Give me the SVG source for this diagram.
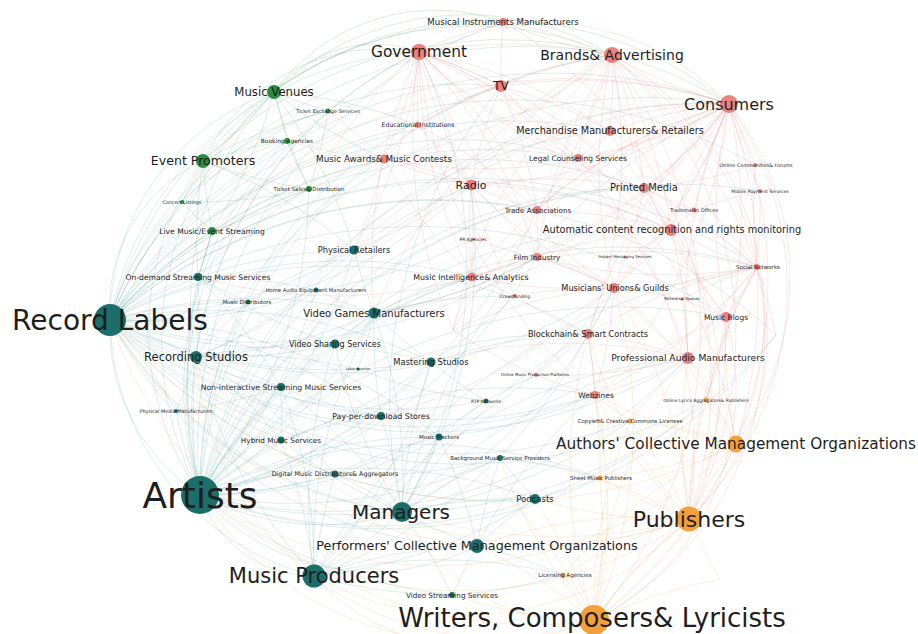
<svg xmlns="http://www.w3.org/2000/svg" width="918" height="634" viewBox="0 0 918 634">
<style>
.bg{fill:#ffffff}
#edges path{fill:none;stroke-width:0.6}
.et path{stroke:#3f8f89;stroke-opacity:0.28}
.er path{stroke:#e27070;stroke-opacity:0.28}
.eo path{stroke:#f0a040;stroke-opacity:0.3}
.eg path{stroke:#3a9a4a;stroke-opacity:0.3}
.t circle{fill:#1b6e69}
.g circle{fill:#2b8c3e}
.r circle{fill:#e8817f}
.o circle{fill:#f3a03a}
.node text{font-family:"DejaVu Sans","Liberation Sans",sans-serif;fill:#1e1e1e;text-anchor:middle}
</style>
<rect class="bg" width="918" height="634"/>
<g id="edges">
<g class="et">
<path d="M200 495A520 520 0 0 1 729 104M200 495A480 480 0 0 1 612 55M200 495A400 400 0 0 1 419 52M200 495A450 450 0 0 1 503 22M200 495A420 420 0 0 1 501 86M200 495A330 330 0 0 1 274 92M200 495A290 290 0 0 1 203 161M200 495A480 480 0 0 1 757 267M200 495A560 560 0 0 1 726 317M110 320A520 520 0 0 1 729 104M110 320A450 450 0 0 1 612 55M110 320A330 330 0 0 1 419 52M110 320A400 400 0 0 1 503 22M110 320A240 240 0 0 1 274 92M110 320A520 520 0 0 1 757 267M110 320A380 380 0 0 1 501 86M110 320A160 160 0 0 1 203 161M110 320A560 560 0 0 1 726 317M200 495A200 200 0 0 1 110 320M477 546A230 230 0 0 1 200 495M314 576A270 270 0 0 1 110 320M314 576A120 120 0 0 1 200 495M402 512A260 260 0 0 1 200 495M402 512A400 400 0 0 1 110 320M402 512A600 600 0 0 1 729 104M314 576A600 600 0 0 1 757 267"/>
<path d="M200 495A460 460 0 0 1 610 131M200 495A470 470 0 0 1 644 188M200 495A380 380 0 0 1 384 159M200 495A360 360 0 0 1 328 111M200 495A350 350 0 0 1 287 141M110 320A300 300 0 0 1 328 111M110 320A260 260 0 0 1 287 141M110 320A420 420 0 0 1 578 158M110 320A480 480 0 0 1 755 165M200 495A520 520 0 0 1 760 191M196 357A300 300 0 0 1 274 92M196 357A400 400 0 0 1 419 52M196 357A520 520 0 0 1 729 104M402 512A380 380 0 0 1 110 320M477 546A420 420 0 0 1 110 320"/>
<path d="M200 495A500 500 0 0 1 196 357M200 495A500 500 0 0 0 374 313M200 495A500 500 0 0 1 335 344M200 495A500 500 0 0 0 431 362M200 495A500 500 0 0 1 281 387M200 495A500 500 0 0 0 381 416M200 495A500 500 0 0 1 281 440M200 495A500 500 0 0 0 335 474M200 495A500 500 0 0 1 198 277M200 495A500 500 0 0 0 354 250M200 495A500 500 0 0 1 535 499M200 495A500 500 0 0 0 500 458M200 495A500 500 0 0 1 439 437M200 495A500 500 0 0 0 486 401M200 495A500 500 0 0 1 248 302M200 495A500 500 0 0 0 316 290M200 495A500 500 0 0 1 176 411M200 495A500 500 0 0 0 452 595M200 495A500 500 0 0 1 595 395M200 495A500 500 0 0 0 614 288M200 495A500 500 0 0 1 588 334M200 495A500 500 0 0 0 688 358M200 495A500 500 0 0 1 472 277M200 495A500 500 0 0 0 537 257M200 495A500 500 0 0 1 600 478M200 495A500 500 0 0 0 630 421M200 495A500 500 0 0 1 358 369M200 495A500 500 0 0 0 309 189M200 495A500 500 0 0 1 212 231M200 495A500 500 0 0 1 471 185M200 495A500 500 0 0 0 537 210M200 495A500 500 0 0 1 671 230M200 495A500 500 0 0 1 644 188M200 495A500 500 0 0 0 706 400M200 495A500 500 0 0 0 776 335"/>
<path d="M110 320A500 500 0 0 0 196 357M110 320A500 500 0 0 1 374 313M110 320A500 500 0 0 0 335 344M110 320A500 500 0 0 1 431 362M110 320A500 500 0 0 0 281 387M110 320A500 500 0 0 1 381 416M110 320A500 500 0 0 0 281 440M110 320A500 500 0 0 1 335 474M110 320A500 500 0 0 1 198 277M110 320A500 500 0 0 0 354 250M110 320A500 500 0 0 1 248 302M110 320A500 500 0 0 0 316 290M110 320A500 500 0 0 1 176 411M110 320A500 500 0 0 0 358 369M110 320A500 500 0 0 1 472 277M110 320A500 500 0 0 0 537 257M110 320A500 500 0 0 1 671 230M110 320A500 500 0 0 0 614 288M110 320A500 500 0 0 1 588 334M110 320A500 500 0 0 0 688 358M110 320A500 500 0 0 1 537 210M110 320A500 500 0 0 1 644 188M110 320A500 500 0 0 0 471 185M110 320A500 500 0 0 0 535 499M110 320A500 500 0 0 1 439 437M110 320A500 500 0 0 0 486 401M110 320A500 500 0 0 0 595 395M110 320A500 500 0 0 1 212 231M110 320A500 500 0 0 1 309 189M110 320A500 500 0 0 1 384 159M110 320A500 500 0 0 1 418 125M110 320A500 500 0 0 1 287 141M110 320A500 500 0 0 1 182 202M110 320A500 500 0 0 1 776 335M110 320A500 500 0 0 1 610 131M110 320A500 500 0 0 1 578 158M110 320A500 500 0 0 0 706 400M110 320A500 500 0 0 0 630 421"/>
<path d="M402 512A500 500 0 0 1 314 576M402 512A500 500 0 0 0 477 546M402 512A500 500 0 0 1 535 499M402 512A500 500 0 0 0 374 313M402 512A500 500 0 0 1 431 362M402 512A500 500 0 0 0 381 416M402 512A500 500 0 0 1 281 440M402 512A500 500 0 0 0 335 474M402 512A500 500 0 0 1 500 458M402 512A500 500 0 0 0 439 437M402 512A500 500 0 0 1 452 595M402 512A500 500 0 0 0 614 288M402 512A500 500 0 0 1 588 334M402 512A500 500 0 0 0 471 185M402 512A500 500 0 0 1 501 86M402 512A500 500 0 0 0 419 52M402 512A500 500 0 0 1 335 344M402 512A500 500 0 0 0 281 387M402 512A500 500 0 0 1 688 358M402 512A500 500 0 0 0 776 335"/>
<path d="M314 576A500 500 0 0 1 196 357M314 576A500 500 0 0 0 431 362M314 576A500 500 0 0 1 477 546M314 576A500 500 0 0 0 452 595M314 576A500 500 0 0 1 335 474M314 576A500 500 0 0 0 281 440M314 576A500 500 0 0 1 688 358M314 576A500 500 0 0 0 588 334M314 576A500 500 0 0 1 335 344M314 576A500 500 0 0 0 535 499M314 576A500 500 0 0 1 563 575M314 576A500 500 0 0 0 281 387M314 576A500 500 0 0 1 374 313M314 576A500 500 0 0 0 439 437"/>
<path d="M196 357A500 500 0 0 1 281 387M196 357A500 500 0 0 0 335 344M196 357A500 500 0 0 1 431 362M196 357A500 500 0 0 0 198 277M196 357A500 500 0 0 1 248 302M196 357A500 500 0 0 0 316 290M196 357A500 500 0 0 1 176 411M196 357A500 500 0 0 0 374 313M196 357A500 500 0 0 1 358 369M196 357A500 500 0 0 0 381 416M196 357A500 500 0 0 1 281 440M196 357A500 500 0 0 0 354 250M374 313A500 500 0 0 1 354 250M374 313A500 500 0 0 0 335 344M374 313A500 500 0 0 1 316 290M374 313A500 500 0 0 0 431 362M374 313A500 500 0 0 1 358 369M374 313A500 500 0 0 0 381 416M374 313A500 500 0 0 1 472 277M374 313A500 500 0 0 0 537 257M374 313A500 500 0 0 1 515 296M198 277A500 500 0 0 1 354 250M198 277A500 500 0 0 0 248 302M198 277A500 500 0 0 1 316 290M198 277A500 500 0 0 0 212 231M198 277A500 500 0 0 1 281 387M198 277A500 500 0 0 0 335 344M477 546A500 500 0 0 1 535 499M477 546A500 500 0 0 0 452 595M477 546A500 500 0 0 1 500 458M477 546A500 500 0 0 0 439 437M477 546A500 500 0 0 1 595 395M281 387A500 500 0 0 1 281 440M281 387A500 500 0 0 0 381 416M381 416A500 500 0 0 1 439 437M335 474A500 500 0 0 0 500 458M535 499A500 500 0 0 1 500 458M486 401A500 500 0 0 0 439 437M431 362A500 500 0 0 1 358 369M431 362A500 500 0 0 0 486 401"/>
<path d="M354 250A500 500 0 0 1 471 185M374 313A500 500 0 0 0 537 257M431 362A500 500 0 0 1 588 334M381 416A500 500 0 0 0 595 395M486 401A500 500 0 0 1 536 375M439 437A500 500 0 0 0 595 395M500 458A500 500 0 0 1 600 478M535 499A500 500 0 0 0 600 478M477 546A500 500 0 0 1 563 575M452 595A500 500 0 0 0 563 575M335 344A500 500 0 0 1 472 277M281 440A500 500 0 0 0 431 362M335 474A500 500 0 0 1 439 437M316 290A500 500 0 0 0 473 239M248 302A500 500 0 0 1 354 250M176 411A500 500 0 0 0 281 387M281 440A500 500 0 0 1 381 416M358 369A500 500 0 0 0 486 401M198 277A500 500 0 0 1 309 189M431 362A500 500 0 0 0 515 296"/>
</g>
<g class="er">
<path d="M729 104A320 320 0 0 1 689 519M729 104A420 420 0 0 1 594 621M729 104A280 280 0 0 1 736 444M612 55A380 380 0 0 1 689 519M419 52A430 430 0 0 1 689 519M757 267A320 320 0 0 1 594 621M757 267A250 250 0 0 1 689 519M612 55A460 460 0 0 1 594 621M503 22A420 420 0 0 1 689 519M726 317A260 260 0 0 1 594 621M419 52A260 260 0 0 1 729 104M503 22A300 300 0 0 1 757 267M612 55A300 300 0 0 1 736 444M644 188A300 300 0 0 1 689 519"/>
<path d="M729 104A500 500 0 0 1 757 267M729 104A500 500 0 0 0 726 317M729 104A500 500 0 0 1 644 188M729 104A500 500 0 0 0 610 131M729 104A500 500 0 0 1 612 55M729 104A500 500 0 0 0 501 86M729 104A500 500 0 0 1 471 185M729 104A500 500 0 0 0 671 230M729 104A500 500 0 0 1 755 165M729 104A500 500 0 0 0 760 191M729 104A500 500 0 0 1 578 158M729 104A500 500 0 0 0 537 210M729 104A500 500 0 0 1 614 288M729 104A500 500 0 0 0 688 358M729 104A500 500 0 0 1 595 395M729 104A500 500 0 0 0 588 334M729 104A500 500 0 0 1 537 257M729 104A500 500 0 0 0 472 277M729 104A500 500 0 0 1 374 313M729 104A500 500 0 0 0 354 250M729 104A500 500 0 0 1 384 159M729 104A500 500 0 0 0 694 210M729 104A500 500 0 0 1 381 416M729 104A500 500 0 0 0 281 387M729 104A500 500 0 0 1 198 277M729 104A500 500 0 0 0 212 231M729 104A500 500 0 0 1 706 400M729 104A500 500 0 0 0 453 330"/>
<path d="M419 52A500 500 0 0 1 501 86M419 52A500 500 0 0 0 503 22M419 52A500 500 0 0 1 612 55M419 52A500 500 0 0 0 418 125M419 52A500 500 0 0 1 384 159M419 52A500 500 0 0 0 471 185M419 52A500 500 0 0 1 537 210M419 52A500 500 0 0 0 614 288M419 52A500 500 0 0 1 537 257M419 52A500 500 0 0 0 472 277M419 52A500 500 0 0 1 354 250M419 52A500 500 0 0 0 309 189M419 52A500 500 0 0 1 287 141M419 52A500 500 0 0 0 578 158M419 52A500 500 0 0 1 610 131M419 52A500 500 0 0 0 644 188M419 52A500 500 0 0 1 671 230M419 52A500 500 0 0 0 374 313M419 52A500 500 0 0 1 688 358M419 52A500 500 0 0 0 595 395M419 52A500 500 0 0 1 736 444M419 52A500 500 0 0 0 453 330"/>
<path d="M612 55A500 500 0 0 1 503 22M612 55A500 500 0 0 0 501 86M612 55A500 500 0 0 1 610 131M612 55A500 500 0 0 0 578 158M612 55A500 500 0 0 1 644 188M612 55A500 500 0 0 0 471 185M612 55A500 500 0 0 1 757 267M612 55A500 500 0 0 0 726 317M612 55A500 500 0 0 1 671 230M612 55A500 500 0 0 0 537 257M612 55A500 500 0 0 1 384 159M612 55A500 500 0 0 0 418 125M612 55A500 500 0 0 1 537 210M612 55A500 500 0 0 0 614 288M612 55A500 500 0 0 1 588 334M612 55A500 500 0 0 0 374 313M612 55A500 500 0 0 0 453 330"/>
<path d="M757 267A500 500 0 0 1 726 317M757 267A500 500 0 0 0 688 358M757 267A500 500 0 0 1 671 230M757 267A500 500 0 0 0 644 188M757 267A500 500 0 0 1 694 210M757 267A500 500 0 0 0 760 191M757 267A500 500 0 0 1 755 165M757 267A500 500 0 0 0 682 299M757 267A500 500 0 0 1 614 288M757 267A500 500 0 0 0 588 334M757 267A500 500 0 0 1 595 395M757 267A500 500 0 0 0 689 519M757 267A500 500 0 0 1 736 444M757 267A500 500 0 0 0 706 400M757 267A500 500 0 0 1 776 335M757 267A500 500 0 0 0 610 131M757 267A500 500 0 0 1 537 257M757 267A500 500 0 0 0 472 277"/>
<path d="M471 185A500 500 0 0 1 501 86M471 185A500 500 0 0 0 384 159M471 185A500 500 0 0 1 418 125M471 185A500 500 0 0 0 537 210M471 185A500 500 0 0 1 354 250M471 185A500 500 0 0 0 472 277M471 185A500 500 0 0 1 537 257M471 185A500 500 0 0 0 515 296M471 185A500 500 0 0 1 644 188M471 185A500 500 0 0 0 614 288M471 185A500 500 0 0 1 473 239M671 230A500 500 0 0 1 644 188M671 230A500 500 0 0 0 694 210M671 230A500 500 0 0 1 614 288M671 230A500 500 0 0 0 537 257M671 230A500 500 0 0 1 625 257M671 230A500 500 0 0 0 726 317M671 230A500 500 0 0 1 688 358M671 230A500 500 0 0 0 537 210M614 288A500 500 0 0 1 682 299M614 288A500 500 0 0 0 515 296M614 288A500 500 0 0 1 588 334M614 288A500 500 0 0 0 688 358M614 288A500 500 0 0 1 595 395M614 288A500 500 0 0 0 537 257M614 288A500 500 0 0 1 472 277M614 288A500 500 0 0 0 453 330M688 358A500 500 0 0 1 726 317M688 358A500 500 0 0 0 588 334M688 358A500 500 0 0 1 595 395M688 358A500 500 0 0 0 431 362M688 358A500 500 0 0 1 536 375M688 358A500 500 0 0 0 630 421M726 317A500 500 0 0 1 682 299M726 317A500 500 0 0 0 595 395M726 317A500 500 0 0 1 706 400M595 395A500 500 0 0 1 536 375M595 395A500 500 0 0 0 630 421M595 395A500 500 0 0 1 600 478M595 395A500 500 0 0 0 588 334M384 159A500 500 0 0 1 418 125M384 159A500 500 0 0 0 309 189M384 159A500 500 0 0 1 287 141M384 159A500 500 0 0 0 328 111M384 159A500 500 0 0 1 354 250M610 131A500 500 0 0 1 578 158M610 131A500 500 0 0 0 644 188M610 131A500 500 0 0 1 537 210M610 131A500 500 0 0 0 501 86M501 86A500 500 0 0 1 503 22M501 86A500 500 0 0 0 418 125M501 86A500 500 0 0 1 537 210M501 86A500 500 0 0 0 578 158"/>
<path d="M537 210A500 500 0 0 1 537 257M537 257A500 500 0 0 0 472 277M472 277A500 500 0 0 1 515 296M515 296A500 500 0 0 0 588 334M588 334A500 500 0 0 1 595 395M536 375A500 500 0 0 0 588 334M473 239A500 500 0 0 1 472 277M473 239A500 500 0 0 0 537 257M625 257A500 500 0 0 1 614 288M625 257A500 500 0 0 0 644 188M694 210A500 500 0 0 1 644 188M578 158A500 500 0 0 0 537 210M418 125A500 500 0 0 1 471 185M384 159A500 500 0 0 0 471 185M418 125A500 500 0 0 1 537 210M384 159A500 500 0 0 0 472 277M453 330A500 500 0 0 1 472 277M453 330A500 500 0 0 0 536 375M682 299A500 500 0 0 1 688 358M760 191A500 500 0 0 0 694 210M755 165A500 500 0 0 1 644 188M537 257A500 500 0 0 1 614 288M578 158A500 500 0 0 1 671 230M471 185A500 500 0 0 1 671 230"/>
</g>
<g class="eo">
<path d="M594 621A330 330 0 0 1 200 495M594 621A230 230 0 0 1 314 576M594 621A450 450 0 0 1 110 320M689 519A400 400 0 0 1 200 495M689 519A310 310 0 0 1 314 576M689 519A490 490 0 0 1 110 320M594 621A200 200 0 0 1 402 512M736 444A430 430 0 0 1 200 495M736 444A510 510 0 0 1 110 320M594 621A300 300 0 0 1 196 357M689 519A420 420 0 0 1 196 357"/>
<path d="M689 519A500 500 0 0 1 736 444M689 519A500 500 0 0 0 594 621M689 519A500 500 0 0 1 600 478M689 519A500 500 0 0 0 630 421M689 519A500 500 0 0 1 706 400M689 519A500 500 0 0 0 563 575M689 519A500 500 0 0 1 535 499M689 519A500 500 0 0 0 477 546M689 519A500 500 0 0 1 402 512M689 519A500 500 0 0 0 500 458M689 519A500 500 0 0 1 595 395M689 519A500 500 0 0 0 726 317M689 519A500 500 0 0 1 688 358M689 519A500 500 0 0 0 614 288M689 519A500 500 0 0 1 588 334M689 519A500 500 0 0 0 720 579"/>
<path d="M594 621A500 500 0 0 1 689 519M594 621A500 500 0 0 0 736 444M594 621A500 500 0 0 1 563 575M594 621A500 500 0 0 0 600 478M594 621A500 500 0 0 1 630 421M594 621A500 500 0 0 0 477 546M594 621A500 500 0 0 1 452 595M594 621A500 500 0 0 0 535 499M594 621A500 500 0 0 1 500 458M594 621A500 500 0 0 0 439 437M594 621A500 500 0 0 1 688 358M594 621A500 500 0 0 0 614 288M594 621A500 500 0 0 1 588 334M594 621A500 500 0 0 0 595 395M594 621A500 500 0 0 1 720 579M736 444A500 500 0 0 1 706 400M736 444A500 500 0 0 0 630 421M736 444A500 500 0 0 1 600 478M736 444A500 500 0 0 0 688 358M736 444A500 500 0 0 1 726 317M736 444A500 500 0 0 0 614 288M736 444A500 500 0 0 1 595 395M736 444A500 500 0 0 0 563 575"/>
</g>
<g class="eg">
<path d="M274 92A370 370 0 0 1 729 104M203 161A340 340 0 0 1 612 55M274 92A280 280 0 0 1 612 55M203 161A430 430 0 0 1 729 104M274 92A130 130 0 0 1 419 52M203 161A200 200 0 0 1 419 52M274 92A200 200 0 0 1 503 22"/>
<path d="M274 92A500 500 0 0 1 203 161M274 92A500 500 0 0 0 328 111M274 92A500 500 0 0 1 287 141M274 92A500 500 0 0 0 309 189M274 92A500 500 0 0 1 212 231M274 92A500 500 0 0 0 182 202M274 92A500 500 0 0 1 354 250M274 92A500 500 0 0 0 384 159M274 92A500 500 0 0 1 418 125M203 161A500 500 0 0 1 287 141M203 161A500 500 0 0 0 309 189M203 161A500 500 0 0 1 182 202M203 161A500 500 0 0 0 212 231M203 161A500 500 0 0 1 328 111M203 161A500 500 0 0 0 198 277M203 161A500 500 0 0 1 354 250M212 231A500 500 0 0 1 182 202M212 231A500 500 0 0 0 309 189M212 231A500 500 0 0 1 198 277M309 189A500 500 0 0 1 287 141M309 189A500 500 0 0 0 328 111M309 189A500 500 0 0 1 182 202"/>
</g>
</g>
<g id="nodes">
<g id="n-musical-instruments" class="node r"><circle cx="503" cy="22" r="4"/><text x="503" y="22" dy=".35em" font-size="8.6">Musical Instruments Manufacturers</text></g>
<g id="n-government" class="node r"><circle cx="419" cy="52" r="8"/><text x="419" y="52" dy=".35em" font-size="15.4">Government</text></g>
<g id="n-tv" class="node r"><circle cx="501" cy="86" r="6"/><text x="501" y="86" dy=".35em" font-size="12">TV</text></g>
<g id="n-brands" class="node r"><circle cx="612" cy="55" r="8"/><text x="612" y="55" dy=".35em" font-size="14">Brands&amp; Advertising</text></g>
<g id="n-consumers" class="node r"><circle cx="729" cy="104" r="9"/><text x="729" y="104" dy=".35em" font-size="16">Consumers</text></g>
<g id="n-educational" class="node r"><circle cx="418" cy="125" r="3"/><text x="418" y="125" dy=".35em" font-size="6.2">Educational Institutions</text></g>
<g id="n-merchandise" class="node r"><circle cx="610" cy="131" r="5"/><text x="610" y="131" dy=".35em" font-size="9.7">Merchandise Manufacturers&amp; Retailers</text></g>
<g id="n-music-awards" class="node r"><circle cx="384" cy="159" r="4.5"/><text x="384" y="159" dy=".35em" font-size="8.8">Music Awards&amp; Music Contests</text></g>
<g id="n-legal" class="node r"><circle cx="578" cy="158" r="4"/><text x="578" y="158" dy=".35em" font-size="7.5">Legal Counseling Services</text></g>
<g id="n-online-communities" class="node r"><circle cx="755" cy="165" r="2"/><text x="756" y="165" dy=".35em" font-size="4.9">Online Communities&amp; Forums</text></g>
<g id="n-radio" class="node r"><circle cx="471" cy="185" r="5.5"/><text x="471" y="185" dy=".35em" font-size="11">Radio</text></g>
<g id="n-printed-media" class="node r"><circle cx="644" cy="188" r="5"/><text x="644" y="188" dy=".35em" font-size="9.9">Printed Media</text></g>
<g id="n-mobile-payment" class="node r"><circle cx="760" cy="191" r="2"/><text x="760" y="191" dy=".35em" font-size="4.6">Mobile Payment Services</text></g>
<g id="n-trade-associations" class="node r"><circle cx="537" cy="210" r="4"/><text x="538" y="210" dy=".35em" font-size="7.2">Trade Associations</text></g>
<g id="n-trademarks" class="node r"><circle cx="694" cy="210" r="2.5"/><text x="694" y="210" dy=".35em" font-size="5">Trademarks Offices</text></g>
<g id="n-pr-agencies" class="node r"><circle cx="473" cy="239" r="1.5"/><text x="473" y="239" dy=".35em" font-size="4.4">PR Agencies</text></g>
<g id="n-acr" class="node r"><circle cx="671" cy="230" r="6"/><text x="672" y="230" dy=".35em" font-size="9.8">Automatic content recognition and rights monitoring</text></g>
<g id="n-film" class="node r"><circle cx="537" cy="257" r="4"/><text x="537" y="257" dy=".35em" font-size="7.2">Film Industry</text></g>
<g id="n-instant-messaging" class="node r"><circle cx="625" cy="257" r="1.5"/><text x="625" y="257" dy=".35em" font-size="3.9">Instant Messaging Services</text></g>
<g id="n-social-networks" class="node r"><circle cx="757" cy="267" r="3"/><text x="758" y="267" dy=".35em" font-size="5.5">Social Networks</text></g>
<g id="n-music-intelligence" class="node r"><circle cx="472" cy="277" r="4.5"/><text x="471" y="277" dy=".35em" font-size="7.9">Music Intelligence&amp; Analytics</text></g>
<g id="n-musicians-unions" class="node r"><circle cx="614" cy="288" r="5"/><text x="615" y="288" dy=".35em" font-size="8.2">Musicians' Unions&amp; Guilds</text></g>
<g id="n-crowdfunding" class="node r"><circle cx="515" cy="296" r="2"/><text x="515" y="296" dy=".35em" font-size="4.4">Crowdfunding</text></g>
<g id="n-rehearsal" class="node r"><circle cx="682" cy="299" r="1.5"/><text x="682" y="299" dy=".35em" font-size="4">Rehearsal Spaces</text></g>
<g id="n-music-blogs" class="node r"><circle cx="726" cy="317" r="5"/><text x="726" y="317" dy=".35em" font-size="7.5">Music Blogs</text></g>
<g id="n-blockchain" class="node r"><circle cx="588" cy="334" r="5"/><text x="588" y="334" dy=".35em" font-size="8.2">Blockchain&amp; Smart Contracts</text></g>
<g id="n-pro-audio" class="node r"><circle cx="688" cy="358" r="6"/><text x="688" y="358" dy=".35em" font-size="9.2">Professional Audio Manufacturers</text></g>
<g id="n-online-music-platforms" class="node r"><circle cx="536" cy="375" r="2"/><text x="535" y="375" dy=".35em" font-size="4">Online Music Production Platforms</text></g>
<g id="n-webzines" class="node r"><circle cx="595" cy="395" r="4"/><text x="596" y="395" dy=".35em" font-size="7.5">Webzines</text></g>
<g id="n-online-lyrics" class="node o"><circle cx="706" cy="400" r="2.5"/><text x="706" y="400" dy=".35em" font-size="4.5">Online Lyrics Aggregators&amp; Publishers</text></g>
<g id="n-copyleft" class="node o"><circle cx="630" cy="421" r="2.5"/><text x="630" y="421" dy=".35em" font-size="5.4">Copyleft&amp; Creative Commons Licenses</text></g>
<g id="n-authors-cmo" class="node o"><circle cx="736" cy="444" r="8.5"/><text x="736" y="444" dy=".35em" font-size="15.3">Authors' Collective Management Organizations</text></g>
<g id="n-sheet-music" class="node o"><circle cx="600" cy="478" r="2.5"/><text x="601" y="478" dy=".35em" font-size="5.4">Sheet Music Publishers</text></g>
<g id="n-publishers" class="node o"><circle cx="689" cy="519" r="12.5"/><text x="689" y="519" dy=".35em" font-size="22">Publishers</text></g>
<g id="n-licensing" class="node o"><circle cx="563" cy="575" r="2.5"/><text x="565" y="575" dy=".35em" font-size="5.6">Licensing Agencies</text></g>
<g id="n-writers" class="node o"><circle cx="594" cy="620" r="15"/><text x="592" y="618" dy=".35em" font-size="26">Writers, Composers&amp; Lyricists</text></g>
<g id="n-music-venues" class="node g"><circle cx="274" cy="92" r="7"/><text x="274" y="92" dy=".35em" font-size="11.7">Music Venues</text></g>
<g id="n-event-promoters" class="node g"><circle cx="203" cy="161" r="7"/><text x="203" y="161" dy=".35em" font-size="12.6">Event Promoters</text></g>
<g id="n-ticket-exchange" class="node g"><circle cx="328" cy="111" r="2.5"/><text x="328" y="111" dy=".35em" font-size="5">Ticket Exchange Services</text></g>
<g id="n-booking" class="node g"><circle cx="287" cy="141" r="3"/><text x="287" y="141" dy=".35em" font-size="5.9">Booking Agencies</text></g>
<g id="n-ticket-sales" class="node g"><circle cx="309" cy="189" r="3"/><text x="309" y="189" dy=".35em" font-size="5.5">Ticket Sales&amp; Distribution</text></g>
<g id="n-concert-listings" class="node g"><circle cx="182" cy="202" r="2"/><text x="182" y="202" dy=".35em" font-size="4.8">Concert Listings</text></g>
<g id="n-live-streaming" class="node g"><circle cx="212" cy="231" r="4"/><text x="212" y="231" dy=".35em" font-size="7.6">Live Music/Event Streaming</text></g>
<g id="n-physical-retailers" class="node t"><circle cx="354" cy="250" r="4.5"/><text x="354" y="250" dy=".35em" font-size="8.3">Physical Retailers</text></g>
<g id="n-on-demand" class="node t"><circle cx="198" cy="277" r="4"/><text x="198" y="277" dy=".35em" font-size="7.6">On-demand Streaming Music Services</text></g>
<g id="n-home-audio" class="node t"><circle cx="316" cy="290" r="2.5"/><text x="316" y="290" dy=".35em" font-size="5.2">Home Audio Equipment Manufacturers</text></g>
<g id="n-music-distributors" class="node t"><circle cx="248" cy="302" r="2.5"/><text x="247" y="302" dy=".35em" font-size="5.4">Music Distributors</text></g>
<g id="n-record-labels" class="node t"><circle cx="110" cy="320" r="16"/><text x="110" y="320" dy=".35em" font-size="28">Record Labels</text></g>
<g id="n-video-games" class="node t"><circle cx="374" cy="313" r="5.5"/><text x="374" y="313" dy=".35em" font-size="10">Video Games Manufacturers</text></g>
<g id="n-video-sharing" class="node t"><circle cx="335" cy="344" r="4.5"/><text x="335" y="344" dy=".35em" font-size="8">Video Sharing Services</text></g>
<g id="n-recording-studios" class="node t"><circle cx="196" cy="357" r="6"/><text x="196" y="357" dy=".35em" font-size="11.5">Recording Studios</text></g>
<g id="n-mastering" class="node t"><circle cx="431" cy="362" r="4.5"/><text x="431" y="362" dy=".35em" font-size="8.4">Mastering Studios</text></g>
<g id="n-label-services" class="node t"><circle cx="358" cy="369" r="1.5"/><text x="358" y="369" dy=".35em" font-size="3.4">Label Services</text></g>
<g id="n-non-interactive" class="node t"><circle cx="281" cy="387" r="4"/><text x="281" y="387" dy=".35em" font-size="7.7">Non-interactive Streaming Music Services</text></g>
<g id="n-p2p" class="node t"><circle cx="486" cy="401" r="2.5"/><text x="486" y="401" dy=".35em" font-size="4.4">P2P Networks</text></g>
<g id="n-physical-media" class="node t"><circle cx="176" cy="411" r="2"/><text x="176" y="411" dy=".35em" font-size="4.9">Physical Media Manufacturers</text></g>
<g id="n-pay-per-download" class="node t"><circle cx="381" cy="416" r="4"/><text x="381" y="416" dy=".35em" font-size="7.9">Pay-per-download Stores</text></g>
<g id="n-music-trackers" class="node t"><circle cx="439" cy="437" r="3.5"/><text x="439" y="437" dy=".35em" font-size="5.5">Music Trackers</text></g>
<g id="n-hybrid" class="node t"><circle cx="281" cy="440" r="3.5"/><text x="281" y="440" dy=".35em" font-size="7.3">Hybrid Music Services</text></g>
<g id="n-background" class="node t"><circle cx="500" cy="458" r="3"/><text x="500" y="458" dy=".35em" font-size="5.5">Background Music Service Providers</text></g>
<g id="n-digital-distributors" class="node t"><circle cx="335" cy="474" r="3.5"/><text x="335" y="474" dy=".35em" font-size="6.4">Digital Music Distributors&amp; Aggregators</text></g>
<g id="n-podcasts" class="node t"><circle cx="535" cy="499" r="5"/><text x="535" y="499" dy=".35em" font-size="8.5">Podcasts</text></g>
<g id="n-artists" class="node t"><circle cx="200" cy="495" r="19"/><text x="200" y="495" dy=".35em" font-size="36">Artists</text></g>
<g id="n-managers" class="node t"><circle cx="402" cy="512" r="10"/><text x="401" y="512" dy=".35em" font-size="20">Managers</text></g>
<g id="n-performers-cmo" class="node t"><circle cx="477" cy="546" r="7"/><text x="477" y="546" dy=".35em" font-size="12.8">Performers' Collective Management Organizations</text></g>
<g id="n-music-producers" class="node t"><circle cx="314" cy="576" r="11.5"/><text x="314" y="576" dy=".35em" font-size="21">Music Producers</text></g>
<g id="n-video-streaming" class="node t"><circle cx="452" cy="595" r="3"/><text x="452" y="595" dy=".35em" font-size="7.2">Video Streaming Services</text></g>
</g>
</svg>
